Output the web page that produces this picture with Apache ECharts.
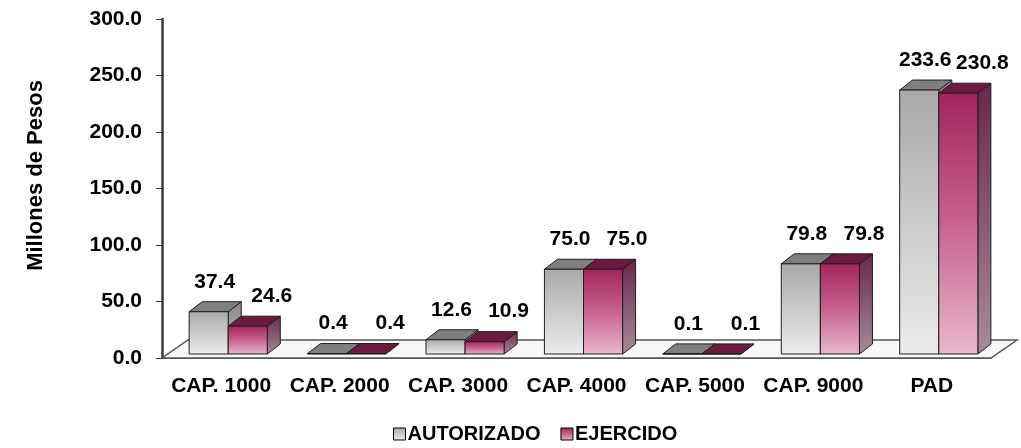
<!DOCTYPE html>
<html>
<head>
<meta charset="utf-8">
<script src="https://cdn.jsdelivr.net/npm/echarts@6/dist/echarts.min.js"></script>
<style>
  html, body { margin: 0; padding: 0; background: #fff; }
  #main { width: 1021px; height: 448px; }
</style>
</head>
<body>
<div id="main"></div>
<script>
var categories = ['CAP. 1000', 'CAP. 2000', 'CAP. 3000', 'CAP. 4000', 'CAP. 5000', 'CAP. 9000', 'PAD'];
var autorizado = [37.4, 0.4, 12.6, 75.0, 0.1, 79.8, 233.6];
var ejercido = [24.6, 0.4, 10.9, 75.0, 0.1, 79.8, 230.8];
var seriesNames = ['AUTORIZADO', 'EJERCIDO'];

var FONT = '"Liberation Sans", Arial, sans-serif';
// fake 3D look
var DX = 13, DY = -10;       // bar depth
var SHIFT_X = 7, SHIFT_Y = -4;
var FLOOR_DX = 26, FLOOR_DY = -18;

var grad = echarts.graphic.LinearGradient;
var looks = [
  {
    front: new grad(0, 0, 0, 1, [{offset: 0, color: '#a9a9a9'}, {offset: 1, color: '#ececec'}]),
    top: '#7f7f7f',
    side: new grad(0, 0, 0, 1, [{offset: 0, color: '#8a8a8a'}, {offset: 1, color: '#b8b8b8'}]),
    labelDx: 6
  },
  {
    front: new grad(0, 0, 0, 1, [{offset: 0, color: '#a2255b'}, {offset: 0.5, color: '#c8628e'}, {offset: 1, color: '#e8b8cc'}]),
    top: '#6c1a40',
    side: new grad(0, 0, 0, 1, [{offset: 0, color: '#66284a'}, {offset: 1, color: '#a88a9a'}]),
    labelDx: 24
  }
];

function bar3d(k) {
  return function (params, api) {
    var i = api.value(0), v = api.value(1);
    var base = api.coord([i, 0]);
    var top = api.coord([i, v]);
    var w = api.size([1, 0])[0] * 0.33;
    var x0 = base[0] + SHIFT_X + (k - 1) * w;
    var x1 = x0 + w;
    var yb = base[1] + SHIFT_Y;
    var yt = top[1] + SHIFT_Y;
    var look = looks[k];
    var line = {stroke: '#1e1e1e', lineWidth: 1};
    return {
      type: 'group',
      children: [
        {type: 'polygon', shape: {points: [[x1, yt], [x1 + DX, yt + DY], [x1 + DX, yb + DY], [x1, yb]]},
          style: Object.assign({fill: look.side}, line)},
        {type: 'polygon', shape: {points: [[x0, yt], [x1, yt], [x1 + DX, yt + DY], [x0 + DX, yt + DY]]},
          style: Object.assign({fill: look.top}, line)},
        {type: 'rect', shape: {x: x0, y: yt, width: w, height: Math.max(yb - yt, 0)},
          style: Object.assign({fill: look.front}, line)},
        {type: 'text', style: {
          text: v.toFixed(1), x: x0 + w / 2 + look.labelDx, y: yt + DY - 20,
          align: 'center', verticalAlign: 'middle',
          fontFamily: FONT, fontWeight: 'bold', fontSize: 21, fill: '#000'
        }}
      ]
    };
  };
}

function floor(params, api) {
  var cs = params.coordSys;
  var yb = cs.y + cs.height, xl = cs.x, xr = cs.x + cs.width;
  return {
    type: 'polygon',
    shape: {points: [[xl, yb], [xr, yb], [xr + FLOOR_DX, yb + FLOOR_DY], [xl + FLOOR_DX, yb + FLOOR_DY]]},
    style: {fill: '#f8f8f8', stroke: '#555', lineWidth: 1.5}
  };
}

var chart = echarts.init(document.getElementById('main'));
chart.setOption({
  animation: false,
  backgroundColor: '#fff',
  grid: {left: 162, right: 30, top: 19, bottom: 90},
  legend: {
    data: seriesNames,
    bottom: -1,
    left: 388,
    icon: 'rect',
    itemWidth: 12,
    itemHeight: 12,
    itemGap: 20,
    itemStyle: {borderColor: '#000', borderWidth: 1},
    textStyle: {fontFamily: FONT, fontWeight: 'bold', fontSize: 20, color: '#000', padding: [0, 0, 0, -3]}
  },
  xAxis: {
    type: 'category',
    data: categories,
    axisLine: {lineStyle: {color: '#222', width: 1.5}},
    axisTick: {length: 6, lineStyle: {color: '#222'}},
    axisLabel: {interval: 0, margin: 18, fontFamily: FONT, fontWeight: 'bold', fontSize: 21, color: '#000'}
  },
  yAxis: {
    type: 'value',
    min: 0, max: 300, interval: 50,
    name: 'Millones de Pesos',
    nameLocation: 'middle',
    nameGap: 115,
    nameTextStyle: {fontFamily: FONT, fontWeight: 'bold', fontSize: 22, color: '#000', padding: [0, 0, 0, 26]},
    axisLine: {show: true, lineStyle: {color: '#3a3a3a', width: 2.5}},
    axisTick: {show: true, length: 6, lineStyle: {color: '#333'}},
    splitLine: {show: false},
    axisLabel: {
      margin: 20, fontFamily: FONT, fontWeight: 'bold', fontSize: 21, color: '#000',
      formatter: function (v) { return v.toFixed(1); }
    }
  },
  series: [
    {type: 'custom', name: 'floor', silent: true, renderItem: floor, data: [[0, 0]], z: 1},
    {type: 'custom', name: seriesNames[0], renderItem: bar3d(0), itemStyle: {color: looks[0].front},
      data: autorizado.map(function (v, i) { return [i, v]; }), z: 2},
    {type: 'custom', name: seriesNames[1], renderItem: bar3d(1), itemStyle: {color: looks[1].front},
      data: ejercido.map(function (v, i) { return [i, v]; }), z: 3}
  ]
});
</script>
</body>
</html>
